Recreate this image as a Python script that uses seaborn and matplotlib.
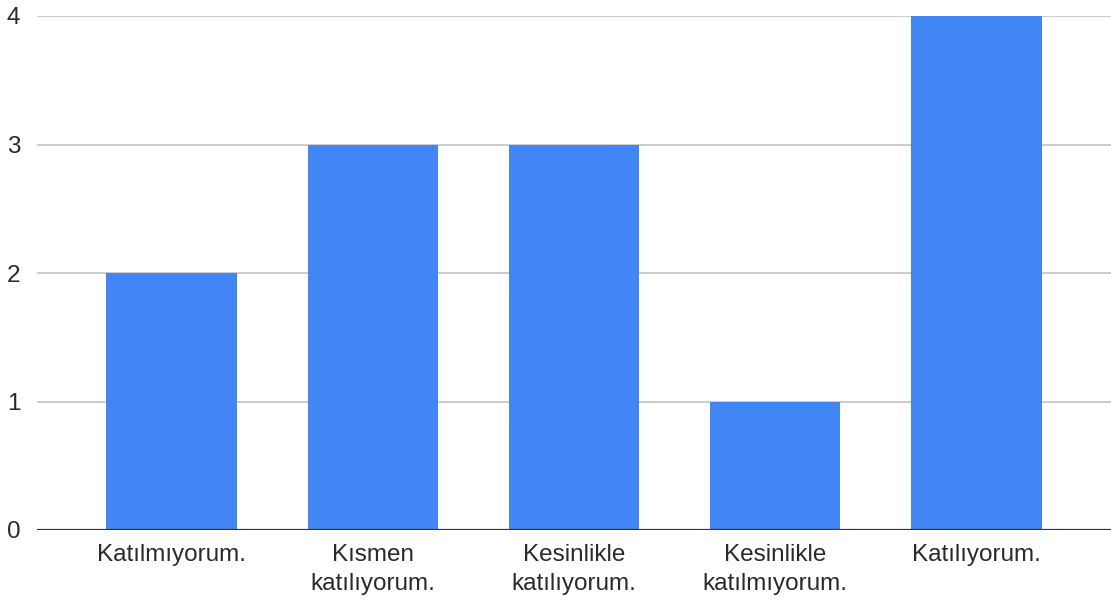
import matplotlib
matplotlib.use("Agg")
import matplotlib.pyplot as plt
import seaborn as sns
import pandas as pd

# ─────────────────────────────────────────────────────────────────
# Data
# ─────────────────────────────────────────────────────────────────
categories = [
    "Katılmıyorum.",
    "Kısmen\nkatılıyorum.",
    "Kesinlikle\nkatılıyorum.",
    "Kesinlikle\nkatılmıyorum.",
    "Katılıyorum.",
]
counts = [2, 3, 3, 1, 4]
y_ticks = [0, 1, 2, 3, 4]

BAR_COLOR = "#4285F4"
TEXT_COLOR = "#2a2a2a"

sns.set_style("white")
plt.rcParams["font.family"] = ["Liberation Sans", "DejaVu Sans"]

df = pd.DataFrame({"answer": categories, "count": counts})

fig = plt.figure(figsize=(11.11, 6.01), dpi=100)
ax = fig.add_axes([37 / 1111, 1 - 530 / 601, 1 - 37 / 1111, (530 - 16) / 601])

sns.barplot(data=df, x="answer", y="count", color=BAR_COLOR, width=0.65,
            saturation=1, linewidth=0, ax=ax, zorder=3)

ax.set_xlim(-0.67, 4.67)
ax.set_ylim(0, 4)
ax.set_yticks(y_ticks)
ax.yaxis.grid(True, color="#cccccc", linewidth=1.4, zorder=0)
ax.set_axisbelow(True)
ax.axhline(0, color="#333333", linewidth=1.6, zorder=4)
for s in ax.spines.values():
    s.set_visible(False)

ax.set_xlabel("")
ax.set_ylabel("")
ax.tick_params(axis="both", length=0, labelsize=17.5, labelcolor=TEXT_COLOR)
ax.tick_params(axis="y", pad=12)
ax.tick_params(axis="x", pad=10)
for lbl in ax.get_xticklabels():
    lbl.set_linespacing(1.4)

fig.savefig("out.png", dpi=100)
plt.close(fig)
